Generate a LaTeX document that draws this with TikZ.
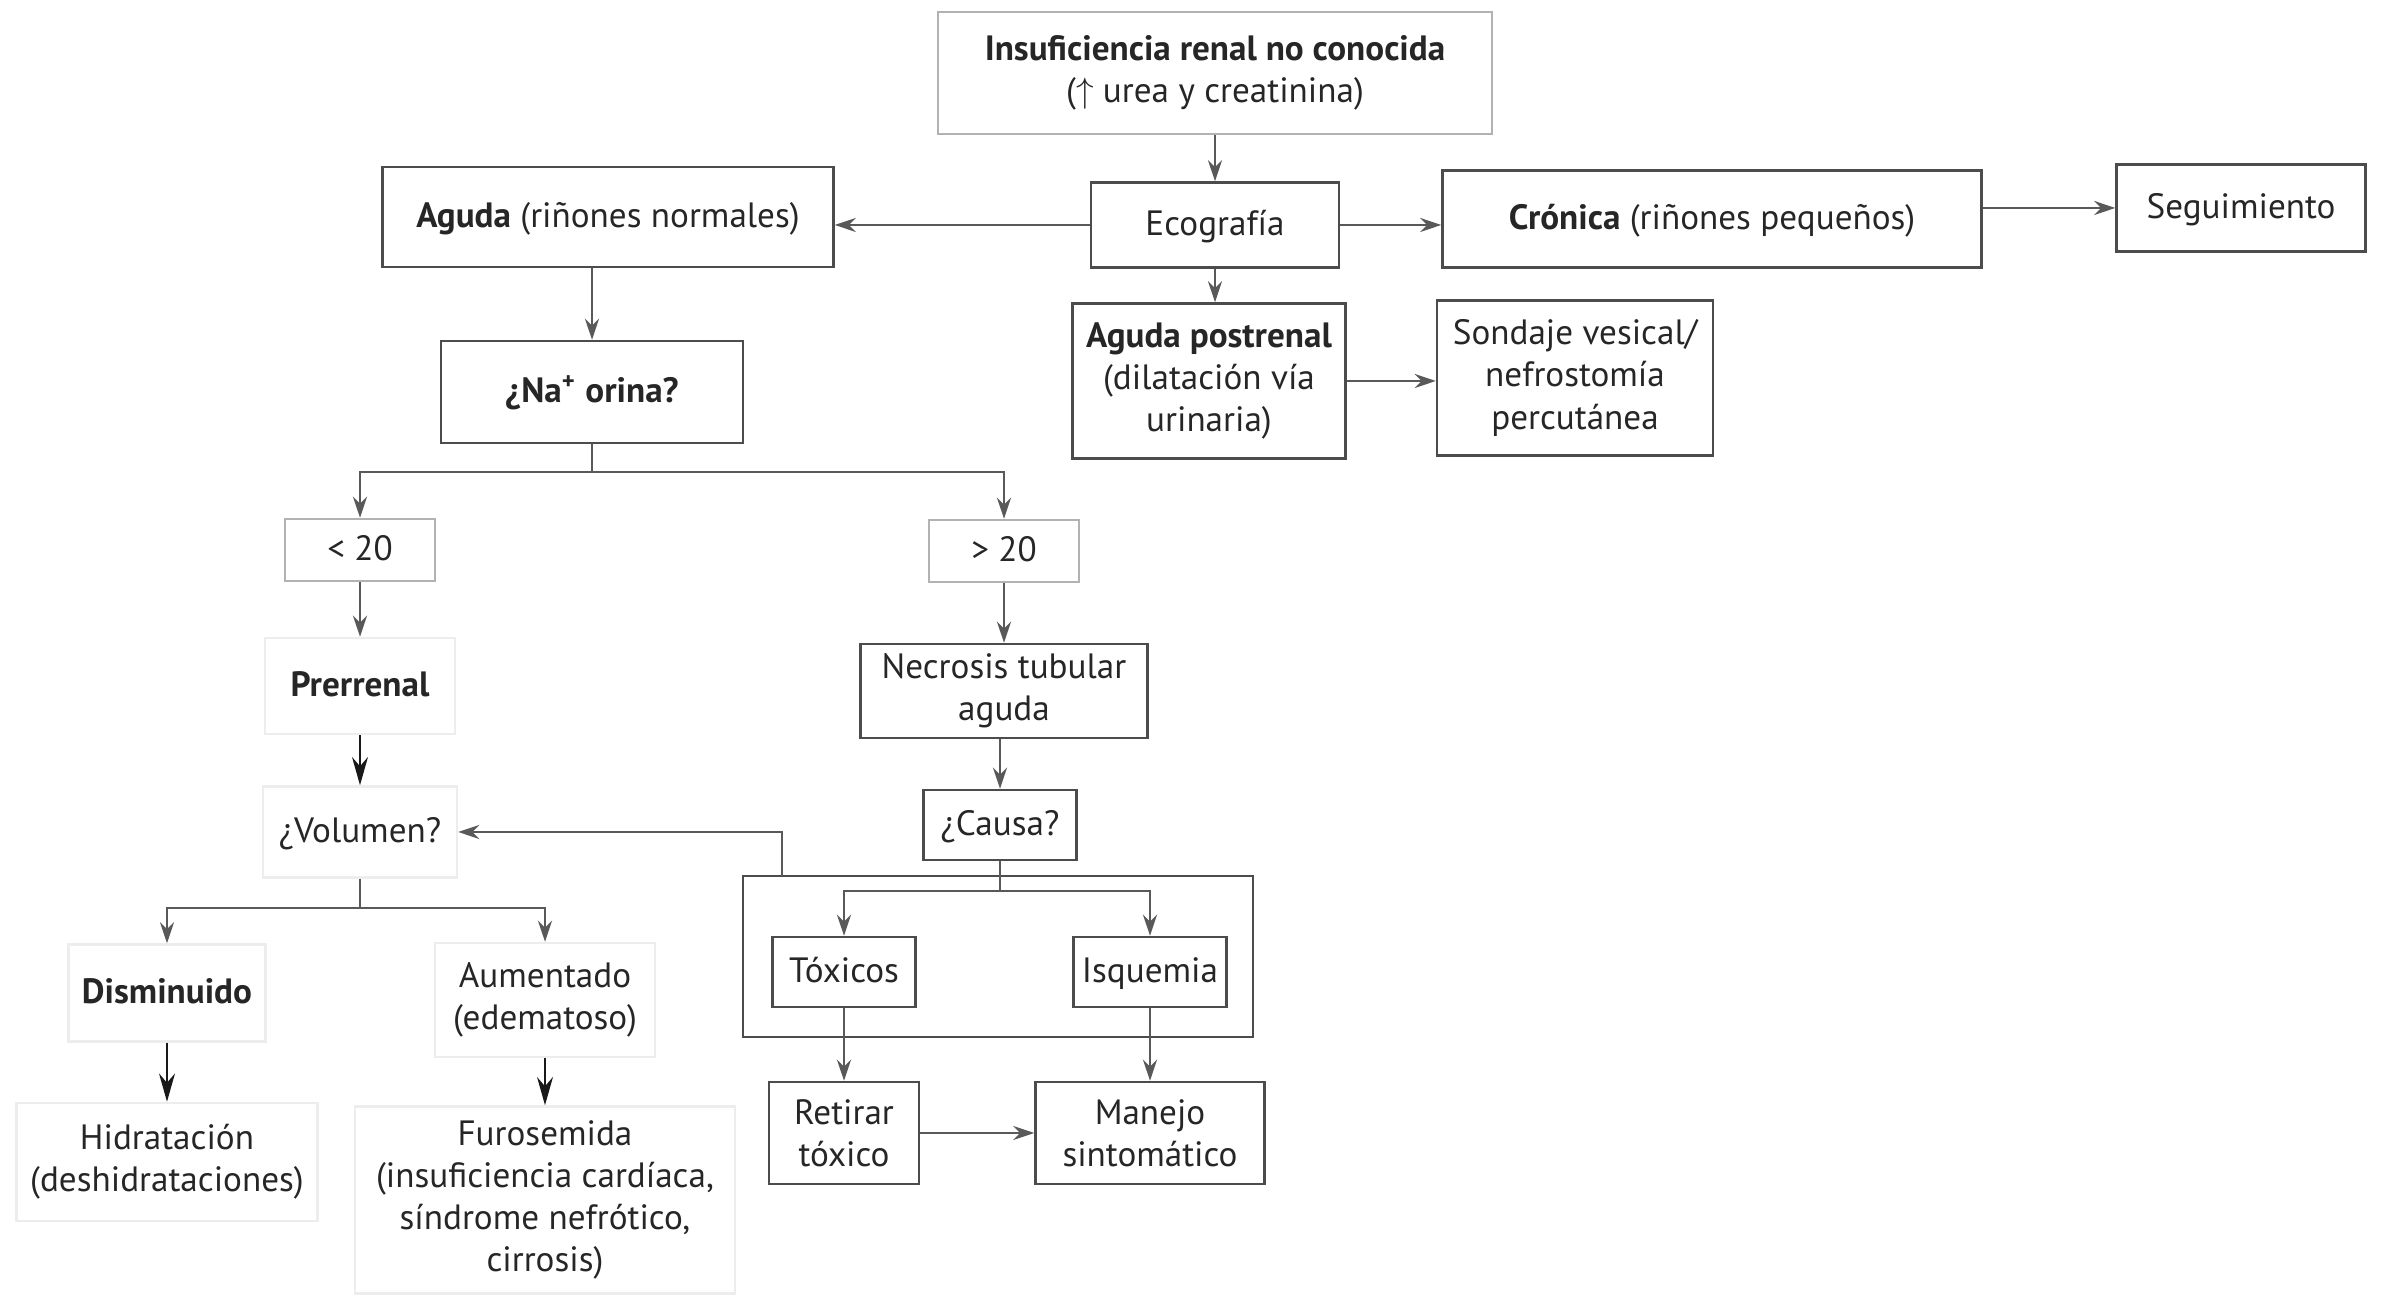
\documentclass[tikz,border=0pt]{standalone}
\usepackage{fontspec}
\setmainfont{PT Sans}
\usepackage{tikz}
\usetikzlibrary{arrows.meta}

\begin{document}
\begin{tikzpicture}[
		box/.style={draw=black!70, line width=0.7pt, align=center, inner sep=2pt, text=black!85},
		lightbox/.style={box, draw=black!30},
		faint/.style={box, draw=black!7},
		uno/.style={text height=1.6ex, text depth=0.45ex},
		arr/.style={draw=black!65, line width=0.7pt, -{Stealth[length=6pt,width=4pt]}},
		arrk/.style={draw=black!90, line width=0.8pt, -{Stealth[length=8pt,width=4.5pt]}},
		line/.style={draw=black!65, line width=0.7pt}
	]
	\useasboundingbox (0,0) rectangle (23.82,12.97);
	
	% parte de arriba
	\node [lightbox, minimum width=5.54cm, minimum height=1.22cm] (inicio) at(12.15,12.24) {\textbf{Insuficiencia renal no conocida}\\($\uparrow$ urea y creatinina)};
	\node [box, uno, minimum width=2.48cm, minimum height=0.85cm] (eco) at(12.15,10.72) {Ecografía};
	\node [box, uno, minimum width=4.51cm, minimum height=1.0cm] (aguda) at(6.08,10.80) {\textbf{Aguda} (riñones normales)};
	\node [box, uno, minimum width=5.39cm, minimum height=0.97cm] (cronica) at(17.12,10.78) {\textbf{Crónica} (riñones pequeños)};
	\node [box, uno, minimum width=2.49cm, minimum height=0.87cm] (seg) at(22.41,10.89) {Seguimiento};
	\node [box, minimum width=2.73cm, minimum height=1.55cm] (postrenal) at(12.09,9.16) {\textbf{Aguda postrenal}\\(dilatación vía\\urinaria)};
	\node [box, minimum width=2.76cm, minimum height=1.55cm] (sondaje) at(15.75,9.19) {Sondaje vesical/\\nefrostomía\\percutánea};
	
	\draw [arr] (inicio) -- (eco);
	\draw [arr] (eco.west) -- (eco.west -| aguda.east);
	\draw [arr] (eco.east) -- (eco.east -| cronica.west);
	\draw [arr] (cronica.east |- seg) -- (seg.west);
	\draw [arr] (eco.south) -- (eco.south |- postrenal.north);
	\draw [arr] (postrenal.east) -- (postrenal.east -| sondaje.west);
	
	% sodio en orina
	\node [box, uno, minimum width=3.02cm, minimum height=1.02cm] (na) at(5.92,9.05) {\textbf{¿Na\textsuperscript{+} orina?}};
	\node [lightbox, uno, minimum width=1.50cm, minimum height=0.62cm] (menor) at(3.60,7.47) {< 20};
	\node [lightbox, uno, minimum width=1.50cm, minimum height=0.62cm] (mayor) at(10.04,7.46) {> 20};
	\coordinate (nasplit) at(5.92,8.25);
	
	\draw [arr] (na |- aguda.south) -- (na);
	\draw [line] (na) -- (nasplit);
	\draw [arr] (nasplit) -| (menor);
	\draw [arr] (nasplit) -| (mayor);
	
	% rama prerrenal
	\node [faint, uno, minimum width=1.90cm, minimum height=0.96cm] (prerrenal) at(3.60,6.11) {\textbf{Prerrenal}};
	\node [faint, uno, minimum width=1.94cm, minimum height=0.91cm] (volumen) at(3.60,4.65) {¿Volumen?};
	\node [faint, uno, minimum width=1.97cm, minimum height=0.97cm] (dism) at(1.67,3.04) {\textbf{Disminuido}};
	\node [faint, minimum width=2.20cm, minimum height=1.14cm] (aument) at(5.45,2.97) {Aumentado\\(edematoso)};
	\node [faint, minimum width=3.01cm, minimum height=1.18cm] (hidrat) at(1.67,1.35) {Hidratación\\(deshidrataciones)};
	\node [faint, minimum width=3.80cm, minimum height=1.87cm] (furo) at(5.45,0.97) {Furosemida\\(insuficiencia cardíaca,\\síndrome nefrótico,\\cirrosis)};
	\coordinate (volsplit) at(3.60,3.89);
	
	\draw [arr] (menor) -- (prerrenal);
	\draw [arrk] (prerrenal) -- (volumen);
	\draw [line] (volumen) -- (volsplit);
	\draw [arr] (volsplit) -| (dism);
	\draw [arr] (volsplit) -| (aument);
	\draw [arrk] (dism) -- (hidrat);
	\draw [arrk] (aument) -- (furo);
	
	% rama necrosis tubular
	\node [box, minimum width=2.87cm, minimum height=0.94cm] (necrosis) at(10.04,6.06) {Necrosis tubular\\aguda};
	\node [box, uno, minimum width=1.53cm, minimum height=0.70cm] (causa) at(10.0,4.72) {¿Causa?};
	\node [box, minimum width=5.10cm, minimum height=1.61cm] (grupo) at(9.98,3.405) {};
	\node [box, uno, minimum width=1.43cm, minimum height=0.70cm] (toxicos) at(8.44,3.25) {Tóxicos};
	\node [box, uno, minimum width=1.53cm, minimum height=0.70cm] (isquemia) at(11.50,3.25) {Isquemia};
	\node [box, minimum width=1.50cm, minimum height=1.02cm] (retirar) at(8.44,1.64) {Retirar\\tóxico};
	\node [box, minimum width=2.29cm, minimum height=1.02cm] (manejo) at(11.50,1.64) {Manejo\\sintomático};
	\coordinate (causasplit) at(10.0,4.06);
	\coordinate (gtop) at(7.82,4.21);
	
	\draw [arr] (mayor) -- (necrosis);
	\draw [arr] (causa |- necrosis.south) -- (causa);
	\draw [line] (causa) -- (causasplit);
	\draw [arr] (causasplit) -| (toxicos);
	\draw [arr] (causasplit) -| (isquemia);
	\draw [arr] (gtop) |- (volumen);
	\draw [arr] (toxicos) -- (retirar);
	\draw [arr] (isquemia) -- (manejo);
	\draw [arr] (retirar) -- (manejo);
\end{tikzpicture}
\end{document}
